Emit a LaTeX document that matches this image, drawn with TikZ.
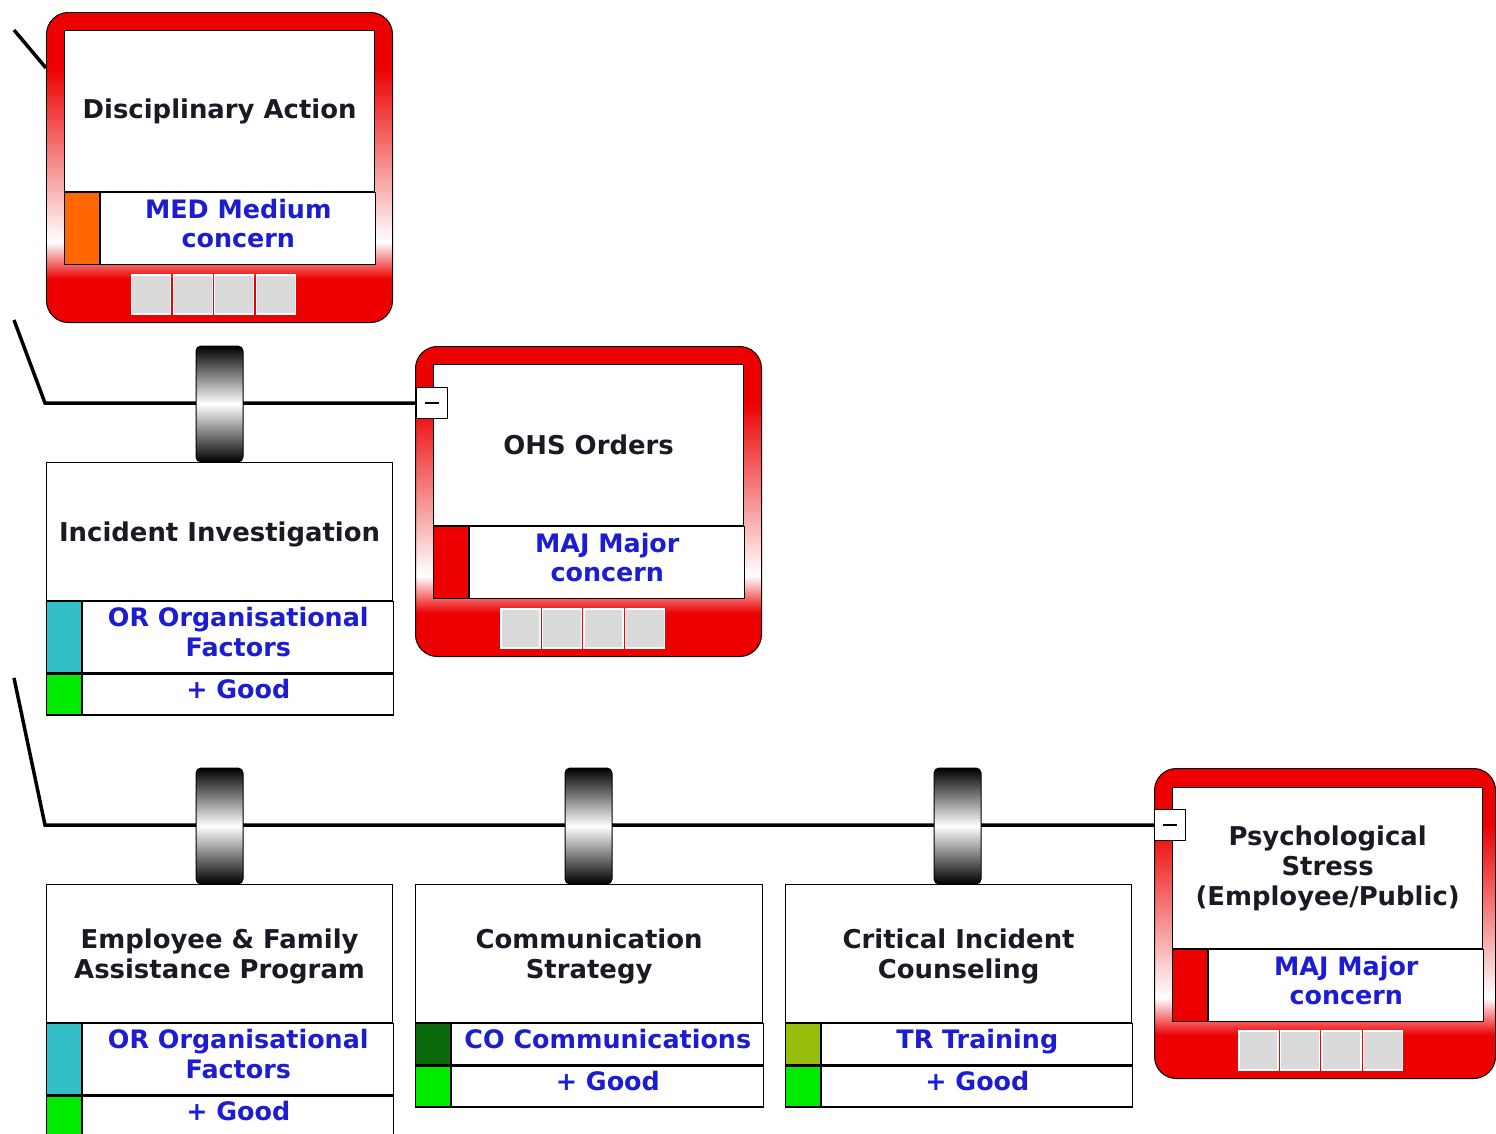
\documentclass[tikz,border=0pt]{standalone}
\usepackage{fontspec}
\setmainfont{DejaVu Sans}
\usepackage{tikz}
\usetikzlibrary{positioning}

\definecolor{ratingblue}{RGB}{28,28,210}
\definecolor{titleblack}{RGB}{26,26,36}
\definecolor{medorange}{RGB}{255,102,0}
\definecolor{majred}{RGB}{236,0,0}
\definecolor{orcyan}{RGB}{51,190,200}
\definecolor{goodgreen}{RGB}{0,235,0}
\definecolor{codkgreen}{RGB}{10,105,10}
\definecolor{trolive}{RGB}{150,190,10}
\definecolor{sqgray}{RGB}{218,218,218}

\pgfdeclareverticalshading{redband}{100bp}{color(0bp)=(majred); color(32bp)=(majred); color(38bp)=(white); color(66bp)=(majred); color(100bp)=(majred)}

\newcommand\titlefont{\fontsize{26}{30}\selectfont\bfseries}
\newcommand\ratefont{\fontsize{25.5}{30}\selectfont\bfseries}

\begin{document}
\begin{tikzpicture}[x=1bp,y=-1bp,
    link/.style={line width=3.5pt},
    conseq/.style={draw=black, line width=1pt, rounded corners=22pt, shading=redband, anchor=north west, minimum width=346bp, minimum height=310bp, inner sep=0pt},
    titlebox/.style={draw=black, line width=1.2pt, fill=white, anchor=north west, minimum width=310bp, minimum height=161bp, align=center, font=\titlefont, text=titleblack, inner sep=2pt},
    bartitle/.style={titlebox, minimum width=346bp, minimum height=138bp, text depth=-10pt},
    ratebox/.style={draw=black, line width=1.2pt, fill=white, align=center, font=\ratefont, text=ratingblue, inner sep=1pt, text depth=11pt},
    swatch/.style={draw=black, line width=1.2pt, minimum width=35bp, inner sep=0pt, anchor=north west},
    sq/.style={fill=sqgray, draw=white, line width=1.5pt, minimum size=39bp, inner sep=0pt, anchor=north west},
    cyl/.style={draw=black, line width=1pt, rounded corners=5pt, top color=black, bottom color=black, middle color=white, minimum width=47bp, minimum height=116bp, inner sep=0pt},
    minusbox/.style={draw=black, line width=1pt, fill=white, minimum size=31bp, inner sep=0pt}]
  \useasboundingbox (0,0) rectangle (1496,1133);
  \clip (0,0) rectangle (1496,1133);

  % consequences
  \node[conseq] (discbg) at (46,12) {};
  \node[titlebox] (disc) at (64,30) {Disciplinary Action};
  \node[swatch, fill=medorange, minimum height=72bp] (discsw) at (disc.south west) {};
  \node[ratebox, minimum width=275bp, minimum height=72bp, right=0pt of discsw] (discrate) {MED Medium\\concern};
  \foreach \i in {0,...,3}
    \node[sq] (discsq\i) at (131+41.5*\i,274) {};

  \node[conseq] (ohsbg) at (415,346) {};
  \node[titlebox] (ohs) at (433,364) {OHS Orders};
  \node[swatch, fill=majred, minimum height=72bp] (ohssw) at (ohs.south west) {};
  \node[ratebox, minimum width=275bp, minimum height=72bp, right=0pt of ohssw] (ohsrate) {MAJ Major\\concern};
  \foreach \i in {0,...,3}
    \node[sq] (ohssq\i) at (500+41.5*\i,608) {};
  \node[minusbox] (ohsmin) at (432,403) {\rule{15pt}{2pt}};

  \node[conseq, minimum width=341bp] (psybg) at (1154,768) {};
  \node[titlebox] (psy) at (1172,787) {Psychological\\Stress\\(Employee/Public)};
  \node[swatch, fill=majred, minimum height=72bp] (psysw) at (psy.south west) {};
  \node[ratebox, minimum width=275bp, minimum height=72bp, right=0pt of psysw] (psyrate) {MAJ Major\\concern};
  \foreach \i in {0,...,3}
    \node[sq] (psysq\i) at (1238+41.5*\i,1030) {};
  \node[minusbox] (psymin) at (1170,825) {\rule{15pt}{2pt}};

  % barriers
  \node[bartitle] (inv) at (46,462) {Incident Investigation};
  \node[swatch, fill=orcyan, minimum height=71bp] (invsw) at (inv.south west) {};
  \node[ratebox, minimum width=311bp, minimum height=71bp, right=0pt of invsw] (invrate) {OR Organisational\\Factors};
  \node[swatch, fill=goodgreen, minimum height=41bp] (invgsw) at (invsw.south west) {};
  \node[ratebox, minimum width=311bp, minimum height=41bp, right=0pt of invgsw] (invgood) {+ Good};

  \node[bartitle] (eap) at (46,884) {Employee \& Family\\Assistance Program};
  \node[swatch, fill=orcyan, minimum height=71bp] (eapsw) at (eap.south west) {};
  \node[ratebox, minimum width=311bp, minimum height=71bp, right=0pt of eapsw] (eaprate) {OR Organisational\\Factors};
  \node[swatch, fill=goodgreen, minimum height=41bp] (eapgsw) at (eapsw.south west) {};
  \node[ratebox, minimum width=311bp, minimum height=41bp, right=0pt of eapgsw] (eapgood) {+ Good};

  \node[bartitle, minimum width=347bp] (comm) at (415,884) {Communication\\Strategy};
  \node[swatch, fill=codkgreen, minimum height=41bp] (commsw) at (comm.south west) {};
  \node[ratebox, minimum width=312bp, minimum height=41bp, right=0pt of commsw] (commrate) {CO Communications};
  \node[swatch, fill=goodgreen, minimum height=41bp] (commgsw) at (commsw.south west) {};
  \node[ratebox, minimum width=312bp, minimum height=41bp, right=0pt of commgsw] (commgood) {+ Good};

  \node[bartitle] (cic) at (785,884) {Critical Incident\\Counseling};
  \node[swatch, fill=trolive, minimum height=41bp] (cicsw) at (cic.south west) {};
  \node[ratebox, minimum width=311bp, minimum height=41bp, right=0pt of cicsw] (cicrate) {TR Training};
  \node[swatch, fill=goodgreen, minimum height=41bp] (cicgsw) at (cicsw.south west) {};
  \node[ratebox, minimum width=311bp, minimum height=41bp, right=0pt of cicgsw] (cicgood) {+ Good};

  % pathways
  \coordinate (in1) at (14,30);
  \coordinate (in1end) at (46,68);
  \coordinate (in2) at (14,320);
  \coordinate (knee2) at (45,403);
  \coordinate (in3) at (14,678);
  \coordinate (knee3) at (45,825);
  \draw[link] (in1) -- (in1end);
  \draw[link] (in2) -- (knee2) -- (ohsmin.west);
  \draw[link] (in3) -- (knee3) -- (psymin.west);

  \node[cyl] (bar1) at (219.5,404) {};
  \node[cyl] (bar2) at (219.5,826) {};
  \node[cyl] (bar3) at (588.5,826) {};
  \node[cyl] (bar4) at (957.5,826) {};
\end{tikzpicture}
\end{document}
